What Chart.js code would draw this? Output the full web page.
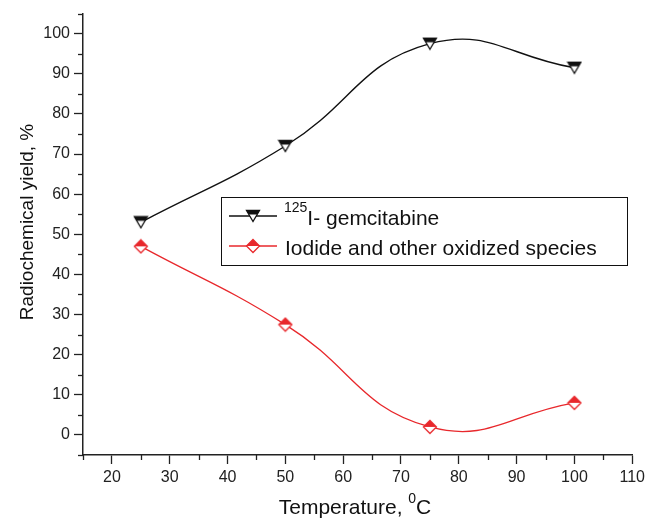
<!doctype html>
<html>
<head>
<meta charset="utf-8">
<title>Radiochemical yield vs temperature</title>
<script src="https://cdn.jsdelivr.net/npm/chart.js@4/dist/chart.umd.min.js"></script>
<style>
  body { margin: 0; background: #fff; }
  canvas { display: block; }
</style>
</head>
<body>
<canvas id="myChart" width="649" height="518"></canvas>
<script>
  // values
  const temps = [25, 50, 75, 100];
  const gemcitabine = [53, 72, 97.5, 91.5];
  const iodide = [47, 27.5, 2, 8];
  const xTicks = [20, 30, 40, 50, 60, 70, 80, 90, 100, 110];
  const yTicks = [0, 10, 20, 30, 40, 50, 60, 70, 80, 90, 100];

  const FONT = "'Liberation Sans', Arial, Helvetica, sans-serif";
  const RED = '#e8282c';

  // half filled markers, like the Origin ones
  function triangleMarker() {
    const c = document.createElement('canvas');
    c.width = 16; c.height = 14;
    const g = c.getContext('2d');
    g.beginPath();
    g.moveTo(1.5, 1.5); g.lineTo(14.5, 1.5); g.lineTo(8, 12.5); g.closePath();
    g.fillStyle = '#fff'; g.fill();
    g.save(); g.clip();
    g.fillStyle = '#111'; g.fillRect(0, 0, 16, 5.5);
    g.restore();
    g.strokeStyle = '#111'; g.lineWidth = 1.3; g.stroke();
    return c;
  }
  function diamondMarker() {
    const c = document.createElement('canvas');
    c.width = 16; c.height = 16;
    const g = c.getContext('2d');
    g.beginPath();
    g.moveTo(8, 1.5); g.lineTo(14.5, 8); g.lineTo(8, 14.5); g.lineTo(1.5, 8); g.closePath();
    g.fillStyle = '#fff'; g.fill();
    g.save(); g.clip();
    g.fillStyle = RED; g.fillRect(0, 0, 16, 8);
    g.restore();
    g.strokeStyle = RED; g.lineWidth = 1.3; g.stroke();
    return c;
  }
  const tri = triangleMarker();
  const dia = diamondMarker();

  const isMajor = v => v % 10 === 0 && v >= 0;

  // minor ticks are shorter, drawn here
  const minorTicks = {
    id: 'minorTicks',
    afterDraw(chart) {
      const ctx = chart.ctx;
      const xs = chart.scales.x, ys = chart.scales.y;
      ctx.save();
      ctx.strokeStyle = '#222';
      ctx.lineWidth = 1.3;
      xs.ticks.forEach(t => {
        if (t.value % 10 === 0) return;
        const px = Math.round(xs.getPixelForValue(t.value)) + 0.5;
        ctx.beginPath(); ctx.moveTo(px, xs.top); ctx.lineTo(px, xs.top + 5); ctx.stroke();
      });
      ys.ticks.forEach(t => {
        if (t.value % 10 === 0) return;
        const py = Math.round(ys.getPixelForValue(t.value)) + 0.5;
        ctx.beginPath(); ctx.moveTo(ys.right, py); ctx.lineTo(ys.right - 5, py); ctx.stroke();
      });
      ctx.restore();
    }
  };

  // axis titles and legend, with superscripts
  const labels = {
    id: 'labels',
    afterDraw(chart) {
      const ctx = chart.ctx;
      ctx.save();
      ctx.fillStyle = '#111';
      ctx.textBaseline = 'alphabetic';

      // y title
      ctx.save();
      ctx.translate(33, 222);
      ctx.rotate(-Math.PI / 2);
      ctx.font = '19px ' + FONT;
      ctx.textAlign = 'center';
      ctx.fillText('Radiochemical yield, %', 0, 0);
      ctx.restore();

      // x title
      ctx.textAlign = 'left';
      ctx.font = '21px ' + FONT;
      const t1 = 'Temperature, ';
      const w1 = ctx.measureText(t1).width;
      ctx.font = '14px ' + FONT;
      const w0 = ctx.measureText('0').width;
      ctx.font = '21px ' + FONT;
      const wc = ctx.measureText('C').width;
      let x = 355 - (w1 + w0 + wc) / 2;
      ctx.fillText(t1, x, 514);
      ctx.font = '14px ' + FONT;
      ctx.fillText('0', x + w1, 503);
      ctx.font = '21px ' + FONT;
      ctx.fillText('C', x + w1 + w0, 514);

      // legend box
      ctx.strokeStyle = '#111';
      ctx.lineWidth = 1;
      ctx.strokeRect(221.5, 197.5, 406, 68);

      ctx.lineWidth = 1.3;
      ctx.strokeStyle = '#111';
      ctx.beginPath(); ctx.moveTo(229, 216); ctx.lineTo(277, 216); ctx.stroke();
      ctx.drawImage(tri, 245, 209);
      ctx.strokeStyle = RED;
      ctx.beginPath(); ctx.moveTo(229, 246); ctx.lineTo(277, 246); ctx.stroke();
      ctx.drawImage(dia, 245, 238);

      ctx.fillStyle = '#111';
      ctx.font = '14px ' + FONT;
      ctx.fillText('125', 284, 212);
      const ws = ctx.measureText('125').width;
      ctx.font = '21px ' + FONT;
      ctx.fillText('I- gemcitabine', 284 + ws, 225);
      ctx.fillText('Iodide and other oxidized species', 285, 255);
      ctx.restore();
    }
  };

  const ctx = document.getElementById('myChart').getContext('2d');
  const myChart = new Chart(ctx, {
    type: 'line',
    data: {
      datasets: [
        {
          label: '125I- gemcitabine',
          data: temps.map((t, i) => ({ x: t, y: gemcitabine[i] })),
          borderColor: '#111',
          borderWidth: 1.4,
          tension: 0.45,
          pointStyle: tri,
          pointRadius: 7,
        },
        {
          label: 'Iodide and other oxidized species',
          data: temps.map((t, i) => ({ x: t, y: iodide[i] })),
          borderColor: RED,
          borderWidth: 1.3,
          tension: 0.45,
          pointStyle: dia,
          pointRadius: 7,
        },
      ]
    },
    options: {
      responsive: false,
      animation: false,
      layout: { padding: { top: 13, right: 16, left: 0, bottom: 0 } },
      scales: {
        x: {
          type: 'linear',
          min: 15,
          max: 110,
          afterFit: s => { s.height = 63; },
          afterBuildTicks: s => {
            const t = [];
            for (let v = 15; v <= 110; v += 5) t.push({ value: v });
            s.ticks = t;
          },
          ticks: {
            autoSkip: false,
            maxRotation: 0,
            padding: 4,
            color: '#222',
            font: { family: FONT, size: 16 },
            callback: v => xTicks.includes(v) ? String(v) : '',
          },
          grid: {
            drawOnChartArea: false,
            tickLength: 9,
            tickWidth: 1.3,
            tickColor: c => (c.tick && c.tick.value % 10 === 0) ? '#222' : 'rgba(0,0,0,0)',
          },
          border: { color: '#222', width: 1.5 },
        },
        y: {
          min: -5,
          max: 105,
          afterFit: s => { s.width = 83; },
          afterBuildTicks: s => {
            const t = [];
            for (let v = -5; v <= 105; v += 5) t.push({ value: v });
            s.ticks = t;
          },
          ticks: {
            autoSkip: false,
            padding: 4,
            color: '#222',
            font: { family: FONT, size: 16 },
            callback: v => yTicks.includes(v) ? String(v) : '',
          },
          grid: {
            drawOnChartArea: false,
            tickLength: 9,
            tickWidth: 1.3,
            tickColor: c => (c.tick && isMajor(c.tick.value)) ? '#222' : 'rgba(0,0,0,0)',
          },
          border: { color: '#222', width: 1.5 },
        }
      },
      plugins: {
        legend: { display: false },
        tooltip: { enabled: false },
        title: { display: false },
      }
    },
    plugins: [minorTicks, labels]
  });
</script>
</body>
</html>
